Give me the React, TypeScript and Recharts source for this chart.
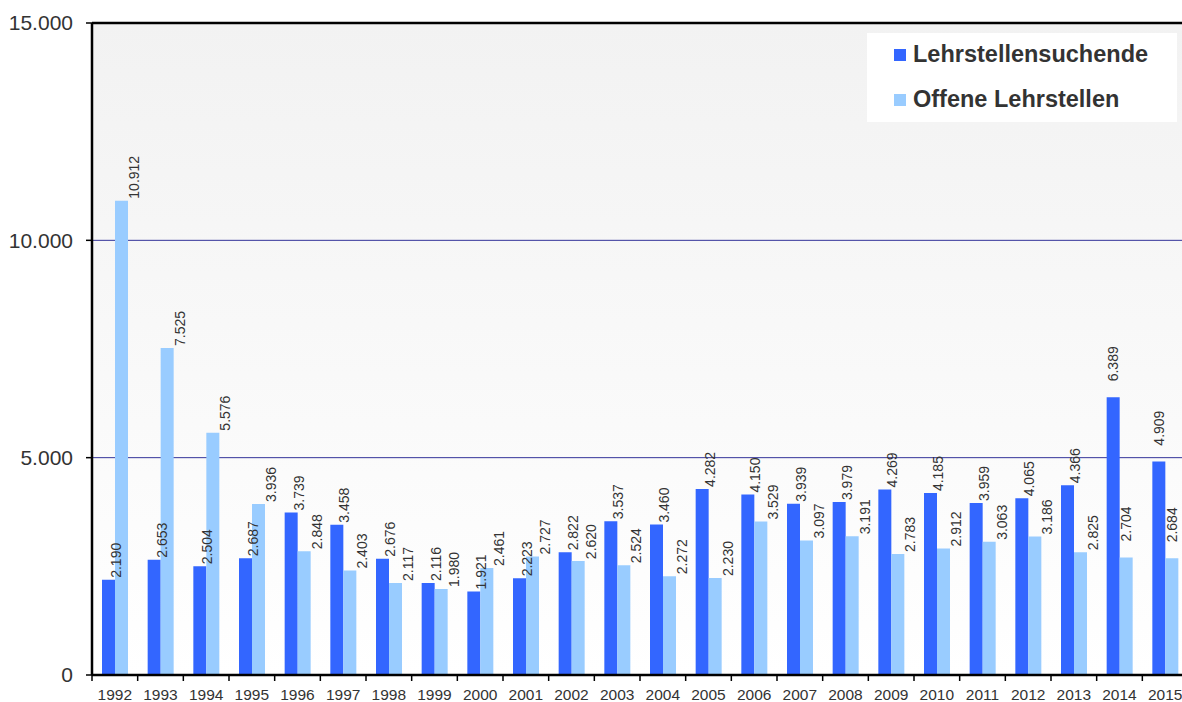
import React from 'react';
import {
  BarChart,
  Bar,
  XAxis,
  YAxis,
  CartesianGrid,
  ReferenceLine,
  Legend,
  LabelList,
} from 'recharts';

// Werte
const YEARS = [
  '1992', '1993', '1994', '1995', '1996', '1997', '1998', '1999', '2000', '2001', '2002', '2003',
  '2004', '2005', '2006', '2007', '2008', '2009', '2010', '2011', '2012', '2013', '2014', '2015',
];
const SUCHENDE = [
  2190, 2653, 2504, 2687, 3739, 3458, 2676, 2116, 1921, 2223, 2822, 3537,
  3460, 4282, 4150, 3939, 3979, 4269, 4185, 3959, 4065, 4366, 6389, 4909,
];
const OFFENE = [
  10912, 7525, 5576, 3936, 2848, 2403, 2117, 1980, 2461, 2727, 2620, 2524,
  2272, 2230, 3529, 3097, 3191, 2783, 2912, 3063, 3186, 2825, 2704, 2684,
];
const Y_TICKS = [0, 5000, 10000, 15000];
const GRID_VALUES = [5000, 10000];
const SERIES_NAMES = ['Lehrstellensuchende', 'Offene Lehrstellen'];

const DARK = '#3366ff';
const LIGHT = '#99ccff';
const TEXT = '#333333';
const FONT = '"Liberation Sans", Arial, sans-serif';

const CHART_W = 1190;
const CHART_H = 702;
const PLOT_LEFT = 92;
const PLOT_RIGHT = 1188;
const PLOT_BOTTOM = 675;
const BAND = (PLOT_RIGHT - PLOT_LEFT) / YEARS.length;

// bei diesen Jahren steht die Beschriftung mittig über dem Balken
const CENTERED_LABELS = ['2014', '2015'];

const data = YEARS.map((year, i) => ({ year, suchende: SUCHENDE[i], offene: OFFENE[i] }));

const fmt = (v: number) => String(v).replace(/\B(?=(\d{3})+(?!\d))/g, '.');

const renderLabel = (shift: number) => (props: any) => {
  const vb = props.viewBox ?? props;
  const x = Number(vb.x ?? props.x);
  const y = Number(vb.y ?? props.y);
  const w = Number(vb.width ?? props.width);
  let cx = x + w + shift;
  let by = y - 2;
  if (CENTERED_LABELS.includes(YEARS[props.index])) {
    cx = x + w / 2;
    by = y - 16;
  }
  return (
    <text
      x={cx}
      y={by}
      transform={`rotate(-90 ${cx} ${by})`}
      fontSize={14}
      fill={TEXT}
      textAnchor="start"
      dominantBaseline="central"
      fontFamily={FONT}
    >
      {fmt(props.value)}
    </text>
  );
};

const YearTick = (props: any) => {
  const { x, payload } = props;
  const left = x - BAND / 2;
  return (
    <g>
      <line x1={left} x2={left} y1={PLOT_BOTTOM} y2={PLOT_BOTTOM + 6} stroke="#000" strokeWidth={1.5} />
      <text x={x} y={PLOT_BOTTOM + 25} textAnchor="middle" fontSize={15.5} fill={TEXT} fontFamily={FONT}>
        {payload.value}
      </text>
    </g>
  );
};

const renderLegend = () => (
  <div
    style={{
      position: 'relative',
      width: 310,
      height: 89,
      background: '#ffffff',
      fontFamily: FONT,
      fontWeight: 'bold',
      fontSize: 23.5,
      color: TEXT,
    }}
  >
    {SERIES_NAMES.map((name, i) => (
      <div key={name}>
        <div
          style={{
            position: 'absolute',
            left: 27,
            top: 16 + i * 45,
            width: 12,
            height: 12,
            background: i === 0 ? DARK : LIGHT,
          }}
        />
        <div
          style={{
            position: 'absolute',
            left: 46,
            top: 8 + i * 45,
            whiteSpace: 'nowrap',
            lineHeight: 'normal',
          }}
        >
          {name}
        </div>
      </div>
    ))}
  </div>
);

export default function App() {
  return (
    <div
      style={{
        position: 'fixed',
        left: 0,
        top: 0,
        width: 1182,
        height: 702,
        overflow: 'hidden',
        background: '#ffffff',
      }}
    >
      <BarChart
        width={CHART_W}
        height={CHART_H}
        data={data}
        margin={{ top: 23, right: CHART_W - PLOT_RIGHT, left: 0, bottom: 0 }}
        barGap={0}
        barCategoryGap="21%"
        style={{ fontFamily: FONT }}
      >
        <defs>
          <linearGradient id="bgGrad" x1="0" y1="0" x2="0" y2="1">
            <stop offset="0%" stopColor="#f2f2f2" />
            <stop offset="100%" stopColor="#ffffff" />
          </linearGradient>
        </defs>
        <CartesianGrid
          vertical={false}
          horizontalValues={GRID_VALUES}
          stroke="#333399"
          strokeWidth={1}
          fill="url(#bgGrad)"
          fillOpacity={1}
        />
        <XAxis
          dataKey="year"
          height={CHART_H - PLOT_BOTTOM}
          interval={0}
          tickLine={false}
          axisLine={{ stroke: '#000', strokeWidth: 2.5 }}
          tick={<YearTick />}
        />
        <YAxis
          width={PLOT_LEFT}
          domain={[0, 15000]}
          ticks={Y_TICKS}
          interval={0}
          tickFormatter={fmt}
          tickSize={6}
          tickMargin={13}
          axisLine={{ stroke: '#000', strokeWidth: 2.5 }}
          tickLine={{ stroke: '#000', strokeWidth: 1.5 }}
          tick={{ fontSize: 21, fill: TEXT, fontFamily: FONT }}
        />
        <ReferenceLine y={15000} stroke="#000" strokeWidth={2.5} />
        <Legend
          layout="horizontal"
          align="center"
          verticalAlign="middle"
          content={renderLegend}
          wrapperStyle={{ top: 33, left: 867, width: 310, height: 89 }}
        />
        <Bar dataKey="suchende" name={SERIES_NAMES[0]} fill={DARK} barSize={13} isAnimationActive={false}>
          <LabelList dataKey="suchende" content={renderLabel(1)} />
        </Bar>
        <Bar dataKey="offene" name={SERIES_NAMES[1]} fill={LIGHT} barSize={13} isAnimationActive={false}>
          <LabelList dataKey="offene" content={renderLabel(6)} />
        </Bar>
      </BarChart>
    </div>
  );
}
